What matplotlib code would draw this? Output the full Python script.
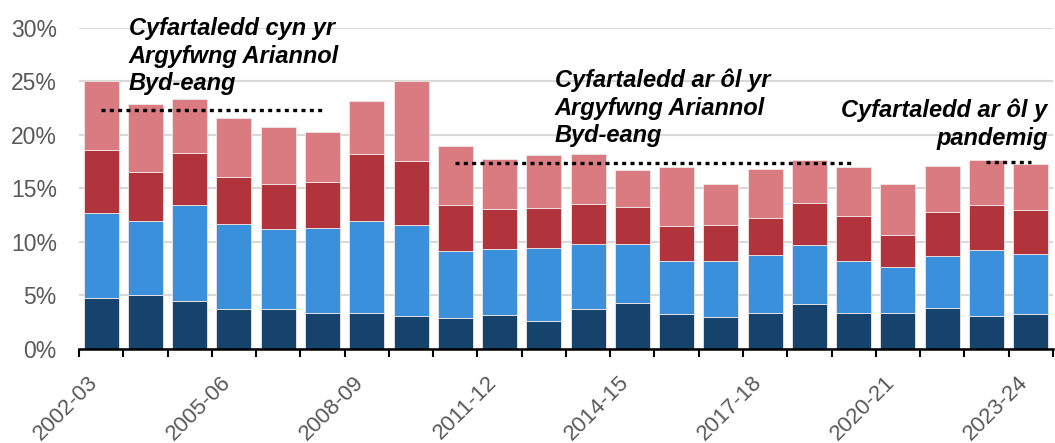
import matplotlib
matplotlib.use("Agg")
import matplotlib.pyplot as plt
import matplotlib.transforms as mtransforms
import numpy as np

plt.rcParams['font.family'] = ['Liberation Sans', 'DejaVu Sans']

years = ["2002-03", "2003-04", "2004-05", "2005-06", "2006-07", "2007-08",
         "2008-09", "2009-10", "2010-11", "2011-12", "2012-13", "2013-14",
         "2014-15", "2015-16", "2016-17", "2017-18", "2018-19", "2019-20",
         "2020-21", "2021-22", "2022-23", "2023-24"]

navy = [4.75, 5.03, 4.5, 3.75, 3.75, 3.34, 3.34, 3.06, 2.88, 3.16, 2.63,
        3.78, 4.34, 3.25, 3.0, 3.34, 4.19, 3.34, 3.34, 3.84, 3.06, 3.25]
blue = [7.94, 6.91, 8.94, 7.94, 7.44, 7.94, 8.66, 8.57, 6.31, 6.15, 6.78,
        6.0, 5.44, 5.0, 5.25, 5.41, 5.5, 4.91, 4.29, 4.88, 6.19, 5.66]
red = [5.94, 4.62, 4.9, 4.34, 4.25, 4.35, 6.25, 5.96, 4.28, 3.78, 3.78,
       3.81, 3.5, 3.28, 3.34, 3.5, 3.97, 4.22, 3.06, 4.09, 4.22, 4.09]
pink = [6.43, 6.38, 5.0, 5.53, 5.31, 4.68, 4.97, 7.5, 5.5, 4.63, 4.94,
        4.66, 3.47, 5.47, 3.82, 4.56, 4.0, 4.5, 4.72, 4.32, 4.19, 4.31]

avg_labels = ["Cyfartaledd cyn yr\nArgyfwng Ariannol\nByd-eang",
              "Cyfartaledd ar ôl yr\nArgyfwng Ariannol\nByd-eang",
              "Cyfartaledd ar ôl y\npandemig"]
avg_values = [22.3, 17.35, 17.5]
avg_start = ["2002-03", "2010-11", "2022-23"]
avg_end = ["2007-08", "2019-20", "2023-24"]

yticks = [0, 5, 10, 15, 20, 25, 30]
shown_labels = ["2002-03", "2005-06", "2008-09", "2011-12", "2014-15",
                "2017-18", "2020-21", "2023-24"]

colors = ["#15436c", "#3b90dc", "#b1333b", "#d97b80"]

fig = plt.figure(figsize=(10.55, 4.43), dpi=100)
ax = fig.add_axes([0.0749, 0.2122, 0.9231, 0.7246])

x = np.arange(len(years))
bottom = np.zeros(len(years))
for vals, c in zip([navy, blue, red, pink], colors):
    ax.bar(x, vals, bottom=bottom, width=0.79, color=c,
           edgecolor="#f2e6e6", linewidth=0.6, zorder=2)
    bottom = bottom + np.array(vals)

for v, s, e in zip(avg_values, avg_start, avg_end):
    i0, i1 = years.index(s), years.index(e)
    ax.plot([i0, i1], [v, v], color="black", lw=2.4,
            linestyle=(0, (1.2, 1.3)), dash_capstyle="butt", zorder=3)

ax.set_xlim(-0.5, len(years) - 0.5)
ax.set_ylim(0, 30)
ax.set_yticks(yticks)
ax.set_yticklabels([f"{t}%" for t in yticks])
ax.yaxis.grid(True, color="#d9d9d9", lw=1.5, zorder=0)
ax.set_axisbelow(True)

ax.set_xticks(np.arange(len(years) + 1) - 0.5)
ax.set_xticklabels([])
ax.set_xticks([years.index(l) for l in shown_labels], minor=True)
ax.set_xticklabels(shown_labels, minor=True, rotation=45, ha="right",
                   va="center", rotation_mode="anchor")
ax.tick_params(axis="x", which="major", length=6, width=1.5, color="black",
               direction="out")
ax.tick_params(axis="x", which="minor", length=0, pad=16, labelsize=16,
               labelcolor="#595959")
ax.tick_params(axis="y", length=0, pad=16, labelsize=16.5, labelcolor="#595959")

offset = mtransforms.ScaledTranslation(-6 / 100, -8 / 100, fig.dpi_scale_trans)
for lab in ax.xaxis.get_minorticklabels():
    lab.set_transform(lab.get_transform() + offset)

for sp in ["left", "right", "top"]:
    ax.spines[sp].set_visible(False)
ax.spines["bottom"].set_linewidth(1.8)
ax.spines["bottom"].set_color("black")

tfont = dict(fontsize=17, fontweight="bold", fontstyle="italic", color="black",
             linespacing=1.25, zorder=4)
ax.text(0.62, 31.0, avg_labels[0], ha="left", va="top", **tfont)
ax.text(10.25, 26.2, avg_labels[1], ha="left", va="top", **tfont)
ax.text(21.38, 23.4, avg_labels[2], ha="right", va="top", multialignment="right",
        **tfont)

fig.savefig("out.png", dpi=100)
